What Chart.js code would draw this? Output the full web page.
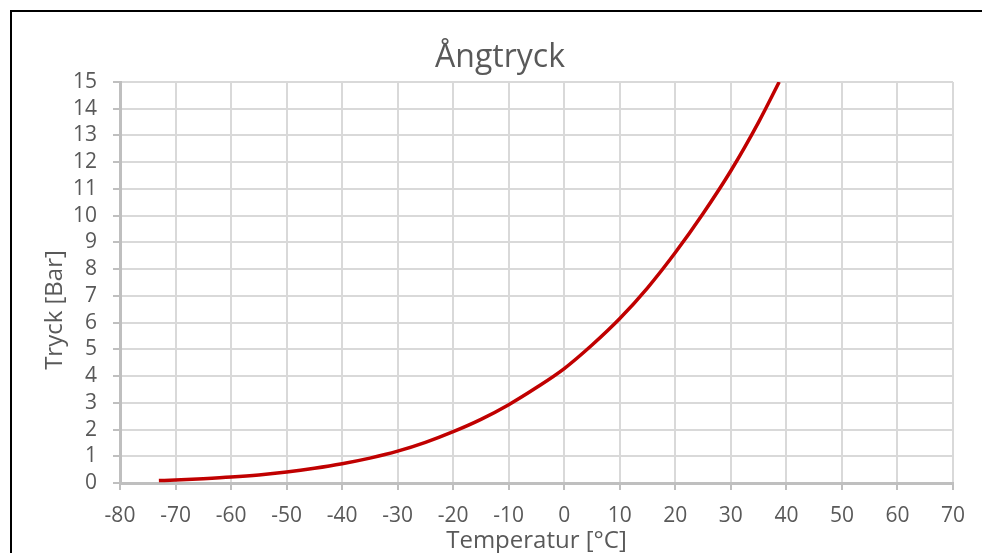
<!DOCTYPE html>
<html>
<head>
<meta charset="utf-8">
<script src="https://cdn.jsdelivr.net/npm/chart.js@4"></script>
<style>
  html, body { margin: 0; padding: 0; background: #fff; overflow: hidden; }
  #wrap { position: relative; width: 982px; height: 553px; }
  #frame { position: absolute; left: 10px; top: 10px; width: 1000px; height: 600px; border: 2px solid #000; box-sizing: border-box; pointer-events: none; }
  canvas { position: absolute; left: 0; top: 0; }
</style>
</head>
<body>
<div id="wrap">
  <canvas id="chart" width="982" height="553"></canvas>
  <div id="frame"></div>
</div>
<script>
// Ångtryck
const temperatur = [-73, -70, -65, -60, -55, -50, -45, -40, -35, -30, -25, -20, -15, -10, -5, 0, 5, 10, 15, 20, 25, 30, 35, 38.7];
const tryck = [0.09, 0.11, 0.16, 0.22, 0.30, 0.41, 0.55, 0.72, 0.93, 1.19, 1.52, 1.92, 2.38, 2.93, 3.57, 4.28, 5.16, 6.15, 7.30, 8.62, 10.08, 11.68, 13.5, 15.0];

const textColor = '#595959';
const fontFamily = '"Open Sans", sans-serif';

// y-axelns titel ritas själv (Excel placerar den lite under mitten)
const yTitle = {
  id: 'yTitle',
  afterDraw(chart) {
    const c = chart.ctx;
    c.save();
    c.translate(55, 310);
    c.rotate(-Math.PI / 2);
    c.fillStyle = textColor;
    c.font = '24px ' + fontFamily;
    c.textAlign = 'center';
    c.textBaseline = 'middle';
    c.fillText('Tryck [Bar]', 0, 0);
    c.restore();
  }
};

const ctx = document.getElementById('chart').getContext('2d');
new Chart(ctx, {
  type: 'line',
  data: {
    datasets: [{
      label: 'Ångtryck',
      data: temperatur.map((t, i) => ({ x: t, y: tryck[i] })),
      borderColor: '#C00000',
      borderWidth: 3.5,
      pointRadius: 0,
      fill: false,
      cubicInterpolationMode: 'monotone'
    }]
  },
  options: {
    responsive: false,
    animation: false,
    layout: { padding: { left: 47, right: 29, top: 0, bottom: 0 } },
    plugins: {
      legend: { display: false },
      tooltip: { enabled: false },
      title: {
        display: true,
        text: 'Ångtryck',
        color: textColor,
        font: { family: fontFamily, size: 32, weight: 'normal' },
        padding: { top: 39, bottom: 4.6 }
      }
    },
    scales: {
      x: {
        type: 'linear',
        min: -80,
        max: 70,
        afterFit: (s) => { s.height = 70; },
        ticks: { stepSize: 10, autoSkip: false, color: textColor, font: { family: fontFamily, size: 21 }, padding: 13, maxRotation: 0 },
        grid: { color: '#d9d9d9', lineWidth: 2, tickLength: 7, tickColor: '#bfbfbf', tickWidth: 2 },
        border: { color: '#bfbfbf', width: 3 },
        title: {
          display: true,
          text: 'Temperatur [°C]',
          color: textColor,
          font: { family: fontFamily, size: 24 },
          padding: { top: 0, bottom: -3 }
        }
      },
      y: {
        min: 0,
        max: 15,
        afterFit: (s) => { s.width = 73; },
        ticks: { stepSize: 1, autoSkip: false, color: textColor, font: { family: fontFamily, size: 21 }, padding: 16 },
        grid: { color: '#d9d9d9', lineWidth: 2, tickLength: 7, tickColor: '#bfbfbf', tickWidth: 2 },
        border: { color: '#bfbfbf', width: 3 }
      }
    }
  },
  plugins: [yTitle]
});
</script>
</body>
</html>
